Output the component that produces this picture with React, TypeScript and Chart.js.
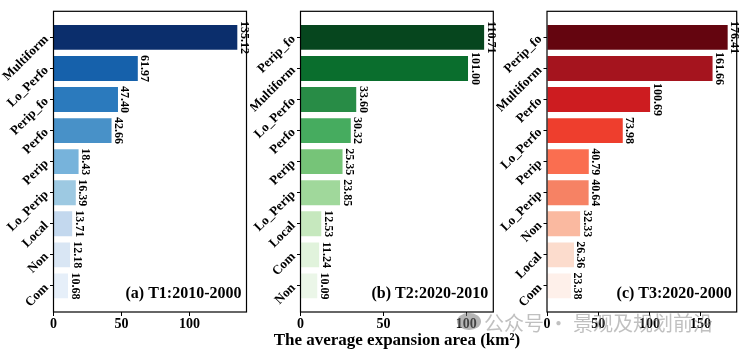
import React, { useEffect, useRef } from 'react';
import { Chart, registerables } from 'chart.js';
Chart.register(...registerables);

const catsA = ['Multiform', 'Lo_Perfo', 'Perip_fo', 'Perfo', 'Perip', 'Lo_Perip', 'Local', 'Non', 'Com'];
const valsA = [135.12, 61.97, 47.40, 42.66, 18.43, 16.39, 13.71, 12.18, 10.68];
const catsB = ['Perip_fo', 'Multiform', 'Lo_Perfo', 'Perfo', 'Perip', 'Lo_Perip', 'Local', 'Com', 'Non'];
const valsB = [110.71, 101.00, 33.60, 30.32, 25.35, 23.85, 12.53, 11.24, 10.09];
const catsC = ['Perip_fo', 'Multiform', 'Perfo', 'Lo_Perfo', 'Perip', 'Lo_Perip', 'Non', 'Local', 'Com'];
const valsC = [176.41, 161.66, 100.69, 73.98, 40.79, 40.64, 32.33, 26.36, 23.38];

const titleA = '(a) T1:2010-2000';
const titleB = '(b) T2:2020-2010';
const titleC = '(c) T3:2020-2000';
const xAxisTitle = 'The average expansion area (km²)';
const watermark = '公众号 · 景观及规划前沿';

const blues = ['#0b2e6c', '#1661ab', '#2b7abd', '#4891c8', '#77b3db', '#9dc9e2', '#c3d8ee', '#d9e6f4', '#e6eff9'];
const greens = ['#06461e', '#0a6e2d', '#288c46', '#46ac5f', '#76c478', '#a0d89b', '#c6e8be', '#e1f3dc', '#ebf6e8'];
const reds = ['#64050f', '#a5141e', '#cd1c20', '#ee3e2d', '#fa6e50', '#f68264', '#fab9a0', '#fcdccd', '#fef0ea'];

const FONT = '"Liberation Serif", "Times New Roman", serif';

function overlayPlugin(title: string, showXTitle: boolean) {
  return {
    id: 'overlay',
    afterDatasetsDraw(chart: any) {
      const ctx = chart.ctx;
      const ca = chart.chartArea;
      const meta = chart.getDatasetMeta(0);
      ctx.save();
      ctx.font = `bold 12px ${FONT}`;
      ctx.fillStyle = '#000';
      ctx.textAlign = 'center';
      ctx.textBaseline = 'alphabetic';
      meta.data.forEach((bar: any, i: number) => {
        const v = chart.data.datasets[0].data[i].x;
        ctx.save();
        ctx.translate(bar.x + 3.5, bar.y);
        ctx.rotate(Math.PI / 2);
        ctx.fillText(v.toFixed(2), 0, 0);
        ctx.restore();
      });
      ctx.strokeStyle = '#000';
      ctx.lineWidth = 1.2;
      ctx.strokeRect(ca.left, ca.top, ca.right - ca.left, ca.bottom - ca.top);
      ctx.font = `bold 16px ${FONT}`;
      ctx.textAlign = 'right';
      ctx.textBaseline = 'alphabetic';
      ctx.fillText(title, ca.right - 5, ca.bottom - 14);
      if (showXTitle) {
        ctx.font = `bold 17px ${FONT}`;
        ctx.textAlign = 'center';
        ctx.fillText(xAxisTitle, (ca.left + ca.right) / 2, 344.5);
      }
      ctx.restore();
    },
  };
}

function makeConfig(cats: string[], vals: number[], colors: string[], title: string,
  padLeft: number, yWidth: number, padRight: number, showXTitle: boolean): any {
  const n = cats.length;
  const xMax = Math.max(...vals) * 1.05;
  return {
    type: 'bar',
    data: {
      datasets: [{
        data: vals.map((v, i) => ({ x: v, y: i })),
        backgroundColor: colors,
        borderWidth: 0,
        barPercentage: 0.8,
        categoryPercentage: 1,
      }],
    },
    options: {
      indexAxis: 'y',
      animation: false,
      responsive: false,
      maintainAspectRatio: false,
      devicePixelRatio: 1,
      layout: { padding: { left: padLeft, right: padRight, top: 1, bottom: 0 } },
      plugins: { legend: { display: false }, tooltip: { enabled: false } },
      scales: {
        x: {
          type: 'linear',
          position: 'bottom',
          min: 0,
          max: xMax,
          offset: false,
          grid: { display: true, offset: false, drawOnChartArea: false, drawTicks: true, tickLength: 4, tickColor: '#000', tickWidth: 1 },
          border: { display: false },
          ticks: { font: { family: FONT, size: 14, weight: 'bold' }, color: '#000', padding: 0, maxRotation: 0, autoSkip: false },
          afterBuildTicks: (s: any) => {
            const t = [];
            for (let v = 0; v <= s.max; v += 50) t.push({ value: v });
            s.ticks = t;
          },
          afterFit: (s: any) => { s.height = 41; },
        },
        y: {
          type: 'linear',
          position: 'left',
          min: -0.84,
          max: n - 1 + 0.84,
          reverse: true,
          offset: false,
          grid: { display: true, offset: false, drawOnChartArea: false, drawTicks: true, tickLength: 3.5, tickColor: '#000', tickWidth: 1 },
          border: { display: false },
          ticks: {
            font: { family: FONT, size: 13, weight: 'bold' }, color: '#000', padding: 3.5,
            minRotation: 45, maxRotation: 45, autoSkip: false,
            callback: (v: number) => cats[v] ?? '',
          },
          afterBuildTicks: (s: any) => { s.ticks = cats.map((_, i) => ({ value: i })); },
          afterFit: (s: any) => { s.width = yWidth; },
        },
      },
    },
    plugins: [overlayPlugin(title, showXTitle)],
  };
}

function Panel({ cfg }: { cfg: any }) {
  const ref = useRef<HTMLCanvasElement | null>(null);
  useEffect(() => {
    if (!ref.current) return;
    const chart = new Chart(ref.current, cfg);
    return () => chart.destroy();
  }, []);
  return (
    <canvas ref={ref} width={739} height={353}
      style={{ position: 'absolute', left: 0, top: 0, width: 739, height: 353 }} />
  );
}

export default function App() {
  const cfgA = makeConfig(catsA, valsA, blues, titleA, 0, 53.5, 739 - 246.5, false);
  const cfgB = makeConfig(catsB, valsB, greens, titleB, 250, 50.5, 739 - 493.3, true);
  const cfgC = makeConfig(catsC, valsC, reds, titleC, 496, 51, 739 - 736.7, false);
  return (
    <div style={{ position: 'fixed', left: 0, top: 0, width: 739, height: 353, background: '#fff', overflow: 'hidden' }}>
      <Panel cfg={cfgA} />
      <Panel cfg={cfgB} />
      <Panel cfg={cfgC} />
      <div style={{ position: 'absolute', left: 457, top: 313, width: 24, height: 17, borderRadius: '50%', background: 'rgba(120,120,120,0.55)' }} />
      <div style={{ position: 'absolute', left: 484, top: 310, fontFamily: '"Noto Sans CJK SC", sans-serif', fontSize: 20, lineHeight: '26px', color: 'rgba(140,140,140,0.55)', whiteSpace: 'nowrap' }}>
        {watermark}
      </div>
    </div>
  );
}
